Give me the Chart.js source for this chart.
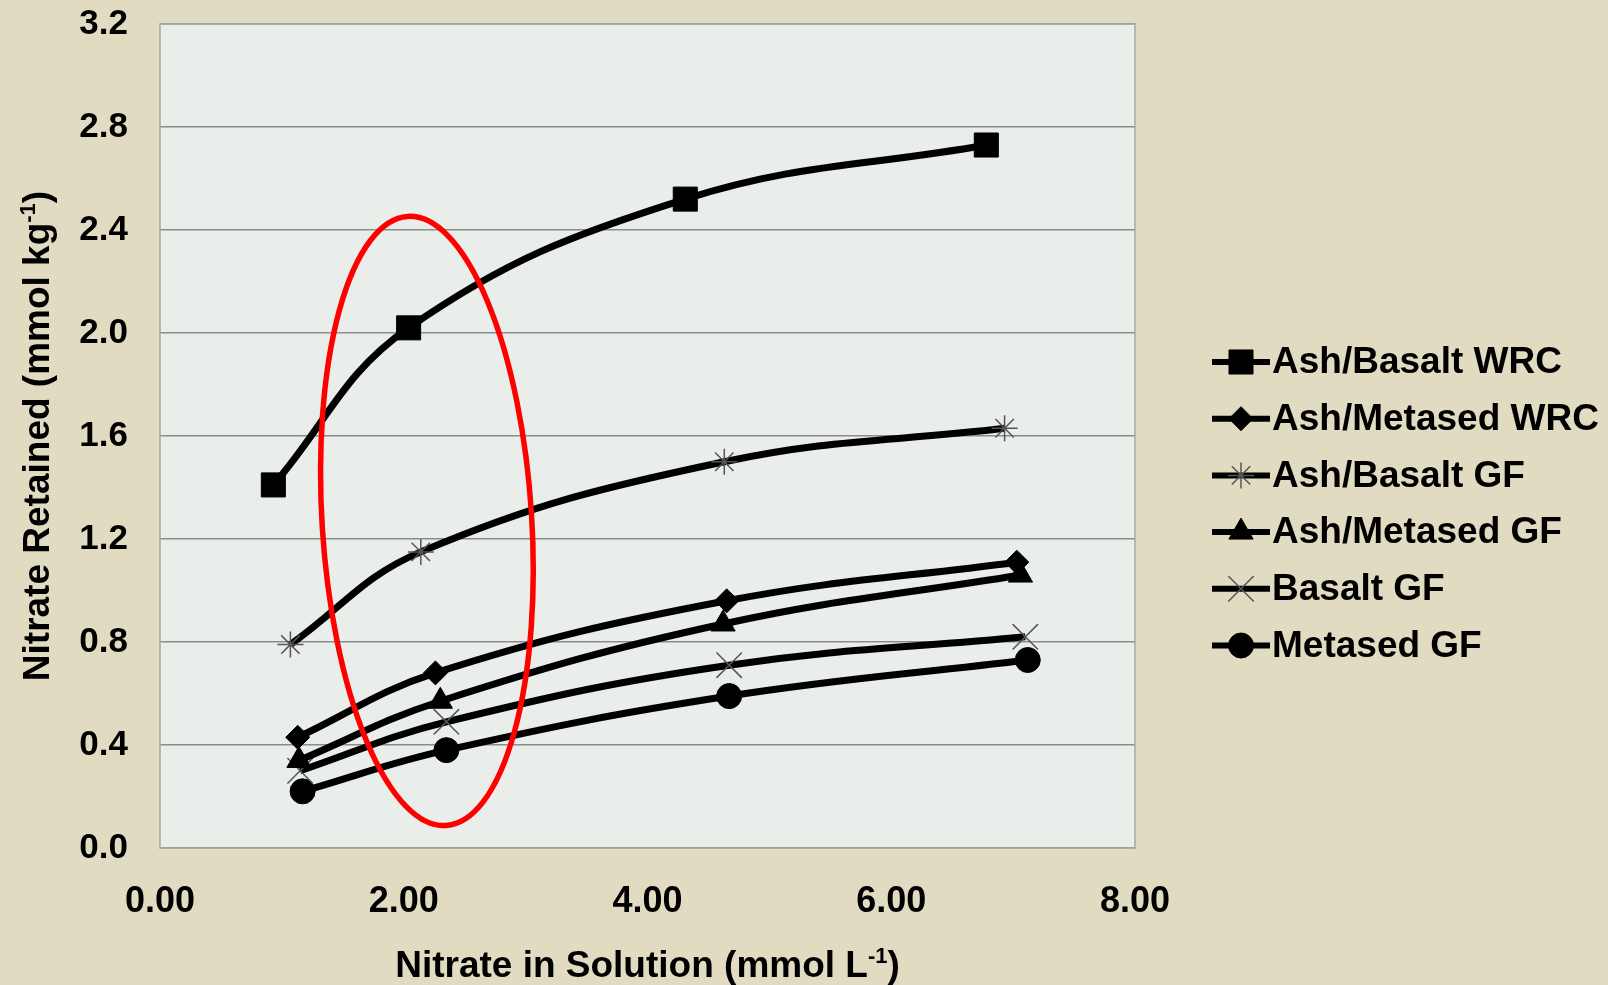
<!DOCTYPE html>
<html>
<head>
<meta charset="utf-8">
<script src="https://cdn.jsdelivr.net/npm/chart.js@4/dist/chart.umd.min.js"></script>
<style>
  html, body { margin: 0; padding: 0; background: #e1dcc1; }
  #wrap { width: 1608px; height: 985px; }
</style>
</head>
<body>
<div id="wrap"><canvas id="myChart" width="1608" height="985"></canvas></div>
<script>
// values (x = nitrate in solution, y = nitrate retained)
const seriesNames = ['Ash/Basalt WRC', 'Ash/Metased WRC', 'Ash/Basalt GF', 'Ash/Metased GF', 'Basalt GF', 'Metased GF'];

const xAshBasaltWRC = [0.93, 2.04, 4.31, 6.78];
const yAshBasaltWRC = [1.41, 2.02, 2.52, 2.73];

const xAshMetasedWRC = [1.13, 2.26, 4.65, 7.03];
const yAshMetasedWRC = [0.43, 0.68, 0.96, 1.11];

const xAshBasaltGF = [1.07, 2.14, 4.63, 6.93];
const yAshBasaltGF = [0.79, 1.15, 1.50, 1.63];

const xAshMetasedGF = [1.14, 2.30, 4.62, 7.06];
const yAshMetasedGF = [0.34, 0.57, 0.87, 1.06];

const xBasaltGF = [1.15, 2.35, 4.67, 7.10];
const yBasaltGF = [0.30, 0.49, 0.71, 0.82];

const xMetasedGF = [1.17, 2.35, 4.67, 7.12];
const yMetasedGF = [0.22, 0.38, 0.59, 0.73];

// red ring drawn over the chart (data units)
const ringCenter = { x: 2.19, y: 1.27 };
const ringRadius = { x: 0.86, y: 1.185 };

const FONT = "'Liberation Sans', Arial, sans-serif";
const BG = '#e1dcc1';
const PLOT_BG = '#eaeeea';

function pts(xs, ys) {
  return xs.map((x, i) => ({ x: x, y: ys[i] }));
}

const markers = [
  { style: 'rect', radius: 17, border: '#000', width: 1 },
  { style: 'rectRot', radius: 12, border: '#000', width: 1 },
  { style: 'star', radius: 13, border: '#555', width: 1.5 },
  { style: 'triangle', radius: 14, border: '#000', width: 1 },
  { style: 'crossRot', radius: 18, border: '#555', width: 1.5 },
  { style: 'circle', radius: 12.5, border: '#000', width: 1 }
];

const allData = [
  pts(xAshBasaltWRC, yAshBasaltWRC),
  pts(xAshMetasedWRC, yAshMetasedWRC),
  pts(xAshBasaltGF, yAshBasaltGF),
  pts(xAshMetasedGF, yAshMetasedGF),
  pts(xBasaltGF, yBasaltGF),
  pts(xMetasedGF, yMetasedGF)
];

const datasets = seriesNames.map((name, i) => ({
  label: name,
  data: allData[i],
  borderColor: '#000',
  borderWidth: 7,
  tension: 0.4,
  fill: false,
  pointStyle: markers[i].style,
  pointRadius: markers[i].radius,
  pointHoverRadius: markers[i].radius,
  pointBackgroundColor: '#000',
  pointBorderColor: markers[i].border,
  pointBorderWidth: markers[i].width
}));

function drawText(ctx, parts, cx, cy, rotate) {
  const big = 'bold 37px ' + FONT;
  const small = 'bold 22px ' + FONT;
  let w = 0;
  parts.forEach(p => { ctx.font = p.sup ? small : big; w += ctx.measureText(p.t).width; });
  ctx.save();
  ctx.translate(cx, cy);
  if (rotate) ctx.rotate(-Math.PI / 2);
  ctx.fillStyle = '#000';
  ctx.textBaseline = 'alphabetic';
  ctx.textAlign = 'left';
  let x = -w / 2;
  parts.forEach(p => {
    ctx.font = p.sup ? small : big;
    ctx.fillText(p.t, x, p.sup ? -1 : 13);
    x += ctx.measureText(p.t).width;
  });
  ctx.restore();
}

const decor = {
  id: 'decor',
  beforeDraw(chart) {
    const ctx = chart.ctx;
    const a = chart.chartArea;
    ctx.save();
    ctx.fillStyle = BG;
    ctx.fillRect(0, 0, chart.width, chart.height);
    ctx.fillStyle = PLOT_BG;
    ctx.fillRect(a.left, a.top, a.right - a.left, a.bottom - a.top);
    ctx.restore();
  },
  afterDatasetsDraw(chart) {
    const ctx = chart.ctx;
    const a = chart.chartArea;
    const xs = chart.scales.x, ys = chart.scales.y;
    // plot border
    ctx.save();
    ctx.strokeStyle = '#9fae9a';
    ctx.lineWidth = 1.5;
    ctx.strokeRect(a.left, a.top, a.right - a.left, a.bottom - a.top);
    // red ring
    const cx = xs.getPixelForValue(ringCenter.x);
    const cy = ys.getPixelForValue(ringCenter.y);
    const rx = xs.getPixelForValue(ringCenter.x + ringRadius.x) - cx;
    const ry = cy - ys.getPixelForValue(ringCenter.y + ringRadius.y);
    ctx.beginPath();
    ctx.ellipse(cx, cy, rx, ry, -0.063, 0, Math.PI * 2);
    ctx.strokeStyle = '#ff0000';
    ctx.lineWidth = 5.5;
    ctx.stroke();
    ctx.restore();
  },
  afterDraw(chart) {
    const ctx = chart.ctx;
    const a = chart.chartArea;
    // axis titles
    drawText(ctx, [{ t: 'Nitrate in Solution (mmol L' }, { t: '-1', sup: true }, { t: ')' }],
      (a.left + a.right) / 2, 964, false);
    drawText(ctx, [{ t: 'Nitrate Retained (mmol kg' }, { t: '-1', sup: true }, { t: ')' }],
      36, (a.top + a.bottom) / 2, true);
    // legend
    const lx = 1212, tx = 1272, y0 = 362, dy = 56.7;
    chart.data.datasets.forEach((ds, i) => {
      const y = y0 + i * dy;
      ctx.save();
      ctx.strokeStyle = '#000';
      ctx.lineWidth = 6;
      ctx.beginPath();
      ctx.moveTo(lx, y);
      ctx.lineTo(tx - 2, y);
      ctx.stroke();
      ctx.fillStyle = '#000';
      ctx.strokeStyle = ds.pointBorderColor;
      ctx.lineWidth = ds.pointBorderWidth;
      Chart.helpers.drawPoint(ctx, {
        pointStyle: ds.pointStyle,
        radius: ds.pointRadius,
        rotation: 0,
        borderWidth: ds.pointBorderWidth
      }, (lx + tx - 2) / 2, y);
      ctx.fillStyle = '#000';
      ctx.font = 'bold 37px ' + FONT;
      ctx.textBaseline = 'middle';
      ctx.textAlign = 'left';
      ctx.fillText(ds.label, tx, y + 1);
      ctx.restore();
    });
  }
};

new Chart(document.getElementById('myChart'), {
  type: 'line',
  data: { datasets: datasets },
  options: {
    responsive: false,
    animation: false,
    layout: { padding: { left: 0, top: 24, right: 473, bottom: 0 } },
    plugins: { legend: { display: false }, tooltip: { enabled: false } },
    scales: {
      x: {
        type: 'linear',
        min: 0,
        max: 8,
        ticks: {
          stepSize: 2,
          padding: 32,
          color: '#000',
          font: { family: FONT, size: 36, weight: 'bold' },
          callback: v => v.toFixed(2)
        },
        grid: { display: false, drawTicks: false },
        border: { display: false },
        afterFit: s => { s.height = 137; }
      },
      y: {
        min: 0,
        max: 3.2,
        ticks: {
          stepSize: 0.4,
          padding: 32,
          color: '#000',
          font: { family: FONT, size: 35, weight: 'bold' },
          callback: v => v.toFixed(1)
        },
        grid: { color: '#8c8c8c', lineWidth: 1.5, drawTicks: false },
        border: { display: false },
        afterFit: s => { s.width = 160; s.paddingTop = 0; s.paddingBottom = 0; }
      }
    }
  },
  plugins: [decor]
});
</script>
</body>
</html>
